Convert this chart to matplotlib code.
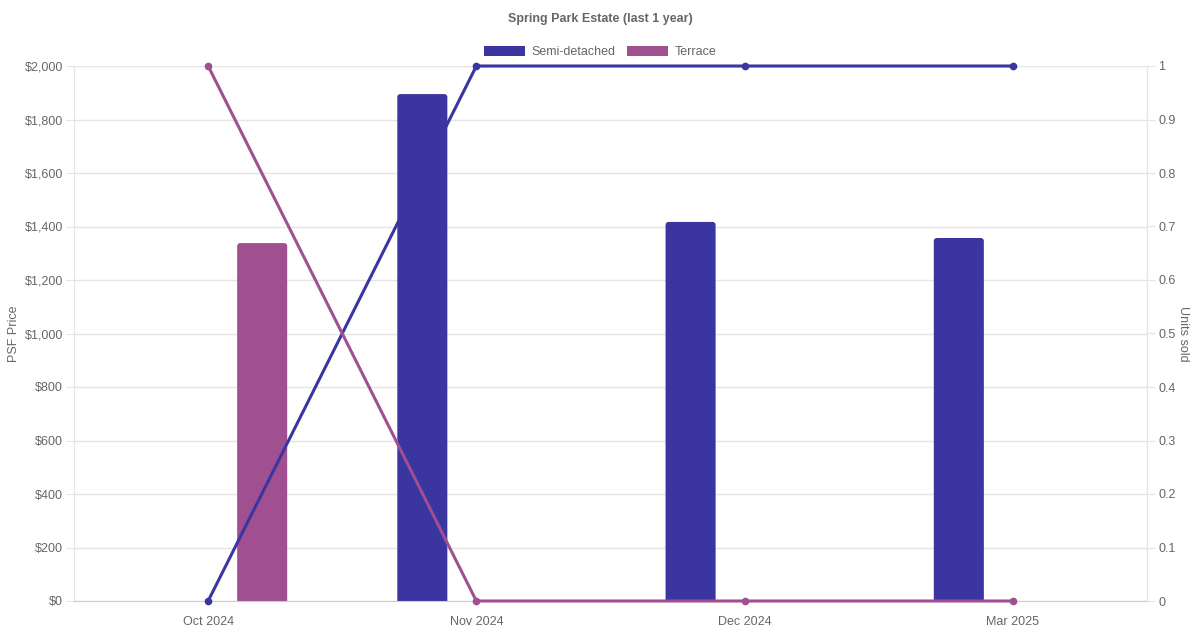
import matplotlib
matplotlib.use("Agg")
import matplotlib.pyplot as plt
import numpy as np
from matplotlib.patches import Patch, FancyBboxPatch
from matplotlib.ticker import FuncFormatter, MultipleLocator

plt.rcParams['font.family'] = ['Liberation Sans', 'DejaVu Sans']

months = ["Oct 2024", "Nov 2024", "Dec 2024", "Mar 2025"]
semi_psf = [np.nan, 1895, 1417, 1357]
terrace_psf = [1338, np.nan, np.nan, np.nan]
semi_units = [0, 1, 1, 1]
terrace_units = [1, 0, 0, 0]

c_semi = "#3a35a0"
c_ter = "#a05091"
grey = "#666666"
gridc = "#e5e5e5"

fig = plt.figure(figsize=(12, 6.3), dpi=100)
ax = fig.add_axes([74/1200, 29/630, (1147-74)/1200, (601-66)/630])
x = np.arange(len(months))
w = 50/268
off = 54/268
ax.set_xlim(-0.5, len(months) - 0.5)
ax.set_ylim(0, 2000)

# bars drawn through the library, then replaced by rounded-top patches of the same geometry
px_x = (len(months)) / 1073.0
px_y = 2000 / 535.0
for vals, dx, col in [(semi_psf, -off, c_semi), (terrace_psf, off, c_ter)]:
    bars = ax.bar(x + dx, vals, width=w, color=col, zorder=2)
    for b in bars:
        h = b.get_height()
        if not np.isfinite(h):
            continue
        b.set_visible(False)
        ext = 10 * px_y
        p = FancyBboxPatch((b.get_x(), -ext), b.get_width(), h + ext,
                           boxstyle=f"round,pad=0,rounding_size={3*px_x}",
                           mutation_aspect=px_y / px_x, facecolor=col, edgecolor='none',
                           zorder=2, clip_on=True)
        ax.add_patch(p)
        p.set_clip_path(ax.patch)

ax.yaxis.set_major_locator(MultipleLocator(200))
ax.yaxis.set_major_formatter(FuncFormatter(lambda v, p: f"${v:,.0f}"))
ax.set_xticks(x)
ax.set_xticklabels(months)
ax.grid(axis='y', color=gridc, linewidth=1, zorder=0)
ax.spines['top'].set_visible(False)
ax.spines['left'].set_color(gridc)
ax.spines['right'].set_color(gridc)
ax.spines['bottom'].set_color("#cccccc")
ax.spines['bottom'].set_zorder(3)
ax.tick_params(axis='y', colors=gridc, labelcolor=grey, labelsize=9, length=6, pad=2)
ax.tick_params(axis='x', colors=gridc, labelcolor=grey, labelsize=9, length=0, pad=10.5)
ax.set_ylabel("PSF Price", color=grey, fontsize=9, labelpad=3)

ax2 = ax.twinx()
ax2.plot(x, semi_units, color=c_semi, linewidth=2.2, marker='o', markersize=4.5, zorder=3, clip_on=False)
ax2.plot(x, terrace_units, color=c_ter, linewidth=2.2, marker='o', markersize=4.5, zorder=3, clip_on=False)
ax2.set_ylim(0, 1)
ax2.yaxis.set_major_locator(MultipleLocator(0.1))
ax2.yaxis.set_major_formatter(FuncFormatter(lambda v, p: f"{v:.1f}".rstrip('0').rstrip('.') if v not in (0, 1) else f"{int(round(v))}"))
for s in ['top', 'left', 'bottom']:
    ax2.spines[s].set_visible(False)
ax2.spines['right'].set_color(gridc)
ax2.tick_params(axis='y', colors=gridc, labelcolor=grey, labelsize=9, length=6, pad=2)
ax2.set_ylabel("Units sold", color=grey, fontsize=9, rotation=270, labelpad=10)

fig.text(0.5, 1 - 19/630, "Spring Park Estate (last 1 year)", ha='center', va='center',
         fontsize=9, fontweight='bold', color=grey)
handles = [Patch(facecolor=c_semi, label="Semi-detached"), Patch(facecolor=c_ter, label="Terrace")]
fig.legend(handles=handles, loc='center', bbox_to_anchor=(0.5, 1 - 52/630), ncol=2, frameon=False,
           fontsize=9, labelcolor=grey, handlelength=3.3, handleheight=0.9, handletextpad=0.5,
           columnspacing=0.9)

fig.savefig("out.png", dpi=100)
